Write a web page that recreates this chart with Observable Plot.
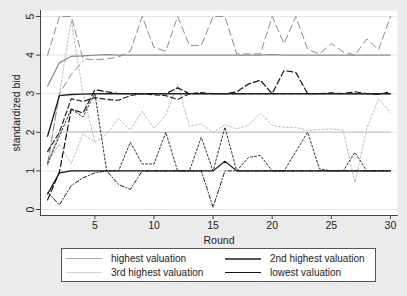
<!DOCTYPE html>
<html><head><meta charset="utf-8">
<script src="https://cdn.jsdelivr.net/npm/d3@7"></script>
<script src="https://cdn.jsdelivr.net/npm/@observablehq/plot@0.6"></script>
<style>
html,body{margin:0;padding:0;background:#ebebeb;}
#wrap{position:relative;width:407px;height:296px;background:#ebebeb;font-family:"Liberation Sans",Arial,sans-serif;}
#chart{position:absolute;left:0;top:0;}
#legend{position:absolute;left:61px;top:248px;width:313px;height:32px;border:1px solid #555;background:#fff;font-size:10px;color:#222;}
.item{position:absolute;display:flex;align-items:center;}
.sw{width:36px;height:0;margin-right:9px;}
</style></head>
<body><div id="wrap"><div id="chart"></div><div id="legend"></div></div>
<script>
const rounds = [1,2,3,4,5,6,7,8,9,10,11,12,13,14,15,16,17,18,19,20,21,22,23,24,25,26,27,28,29,30];
const yTicks = [0,1,2,3,4,5];
const xTicks = [5,10,15,20,25,30];
const legendLabels = ["highest valuation","2nd highest valuation","3rd highest valuation","lowest valuation"];

// solid lines
const highestVal = [3.2,3.8,3.97,3.98,4,4.01,4,4,4,4,4,4,4,4,4,4,4,4,4,4.01,4,4,4,4,4,4,4,4,4,4];
const secondVal  = [1.9,2.95,2.98,2.99,3,3,3,3,3,3,3,3,3,3,3,3,3,3,3,3,3,3,3,3,3,3,3,3,3,3];
const thirdVal   = [1.15,2,2,2.01,2.02,2,2,2,2,2,2,2,2,2,2,2,2,2,2,2,2,2,2,2,2,2,2,2,2,2];
const lowestVal  = [0.4,0.95,1,1,1,1,1,1,1,1,1,1,1,1,1,1.25,1,1,1,1,1,1,1,1,1,1,1,1,1,1];

// dashed / dotted lines
const highestBid = [4,5,5,3.9,3.88,3.9,3.95,4.1,5,4.2,4.1,5,4.25,4.25,5,5,4.03,4.03,4.03,5,4.3,5,4.15,4.03,4.3,4.08,4,4.42,4.14,5];
const highestBidB = [1.2,3,3.5,3.85];
const secondBid  = [0.25,0.97,2.6,2.5,3.1,3.05,3,3,3,3,3,3.15,3,3,3,3,3.05,3.25,3.35,3,3.6,3.55,3,3,3.02,3,3.05,3,2.98,3.05];
const secondBidB = [1.5,2,2.87,2.8,2.9,2.85,2.83,2.95,3,2.97,2.95,2.85,3,3.03,3,3,3,3,3,3,3,3,3,3,3,3,3,3,3,3];
const thirdBid   = [1.2,1.7,1.19,1.96,1.74,1.96,2.36,2.05,2.55,2.1,2.45,3.25,2.15,2.22,2,2.2,2.09,2.18,2.5,2.18,2.13,2.13,2.05,2.07,2.09,2.05,0.7,2.1,2.87,2.5];
const thirdBidB  = [1.15,3,4.9,3,1.74];
const lowestBid  = [0.45,0.12,0.62,0.82,0.95,1,0.65,0.52,1,1,1,1,1,1,0.06,1,1,1,1,1,1,1,1,1,1,1,1,1,1,1];
const lowestBidB = [1.2,1.9,2.6,2.4,3,1,1,1.74,1.18,1.18,2,1,1,1.87,1,2.13,1,1.35,1.4,1,1,1.5,2,1.05,1,1,1.48,1,1,1];

const toRows = arr => arr.map((v,i)=>({round:rounds[i], value:v}));
const line = (arr, stroke, width, dash) => Plot.line(toRows(arr), {x:"round", y:"value", stroke, strokeWidth:width, strokeDasharray:dash});

const chart = Plot.plot({
  width:407, height:246,
  marginLeft:40, marginRight:10, marginTop:10, marginBottom:31,
  style:{background:"transparent", fontFamily:"Liberation Sans, Arial, sans-serif", fontSize:"10.5px", color:"#222"},
  x:{domain:[0.4,30.6]},
  y:{domain:[-0.155,5.155]},
  marks:[
    Plot.frame({fill:"#fff", stroke:"none"}),
    Plot.ruleY(yTicks, {stroke:"#e4e4e4", strokeWidth:1}),
    line(thirdVal, "#cfcfcf", 1.6, null),
    line(thirdBid, "#bdbdbd", 1, "2,2"),
    line(thirdBidB, "#bdbdbd", 1, "2,2"),
    line(highestVal, "#8c8c8c", 1.3, null),
    line(highestBid, "#8c8c8c", 1, "7,4"),
    line(highestBidB, "#8c8c8c", 1, "7,4"),
    line(lowestBid, "#222", 1, "4,2,1,2"),
    line(lowestBidB, "#333", 1, "2,2"),
    line(secondBidB, "#222", 1.2, "5,3"),
    line(secondBid, "#111", 1.2, "6,3"),
    line(secondVal, "#222", 1.4, null),
    line(lowestVal, "#111", 1.2, null),
    Plot.axisX({ticks:xTicks, tickSize:4, tickPadding:2, tickFormat:d=>String(d), label:"Round", labelAnchor:"center", labelArrow:"none", labelOffset:28, stroke:"#444"}),
    Plot.axisY({ticks:yTicks, tickSize:4, tickPadding:3, tickFormat:d=>String(d), tickRotate:-90, label:"standardized bid", labelAnchor:"center", labelArrow:"none", labelOffset:28, stroke:"#444"}),
    Plot.frame({anchor:"left", stroke:"#444"}),
    Plot.frame({anchor:"bottom", stroke:"#444"})
  ]
});
document.getElementById("chart").appendChild(chart);

const legendStyles = [
  {stroke:"#a8a8a8", w:1.5},
  {stroke:"#555", w:2},
  {stroke:"#d4d4d4", w:1.5},
  {stroke:"#111", w:1.3}
];
const pos = [[4,3],[163,3],[4,17],[163,17]];
const lg = document.getElementById("legend");
legendLabels.forEach((t,i)=>{
  const d = document.createElement("div");
  d.className="item";
  d.style.left = pos[i][0]+"px"; d.style.top = pos[i][1]+"px"; d.style.height="13px";
  const s = document.createElement("div"); s.className="sw";
  s.style.borderTop = legendStyles[i].w+"px solid "+legendStyles[i].stroke;
  d.appendChild(s);
  const sp = document.createElement("span"); sp.textContent = t; d.appendChild(sp);
  lg.appendChild(d);
});
</script></body></html>
